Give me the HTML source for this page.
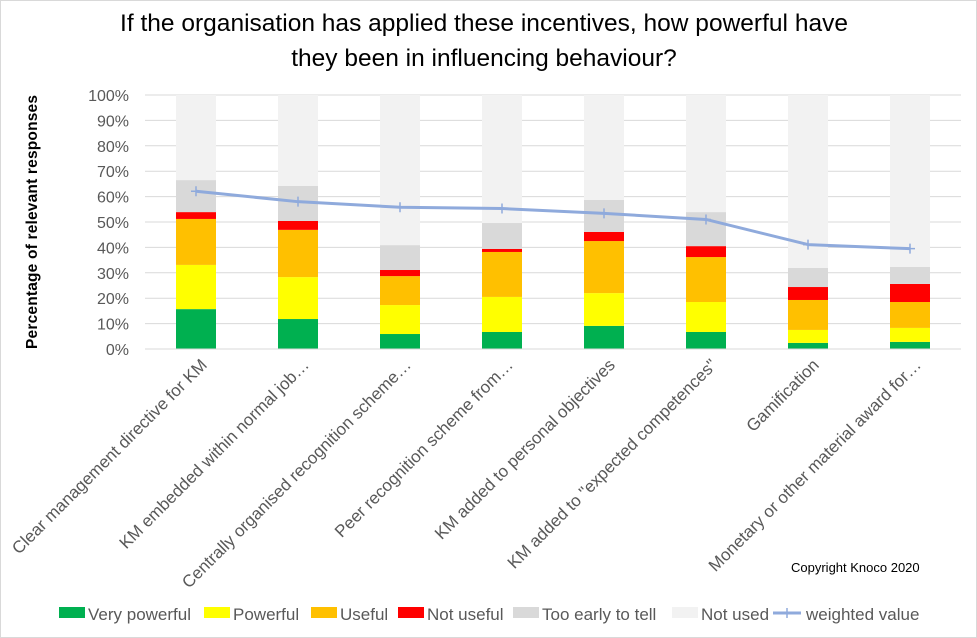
<!DOCTYPE html>
<html><head><meta charset="utf-8"><style>
body{margin:0;background:#fff;}
svg{display:block;font-family:"Liberation Sans",Calibri,sans-serif;}
</style></head><body>
<svg id="chart" width="977" height="638" viewBox="0 0 977 638">
<rect x="0.5" y="0.5" width="976" height="637" fill="#fff" stroke="#d9d9d9"/>
<text x="484" y="31" font-size="24.5" text-anchor="middle" fill="#000" textLength="728">If the organisation has applied these incentives, how powerful have</text>
<text x="484" y="66" font-size="24.5" text-anchor="middle" fill="#000">they been in influencing behaviour?</text>
<text transform="translate(37,222) rotate(-90)" font-size="15.5" font-weight="bold" text-anchor="middle" fill="#000" textLength="254">Percentage of relevant responses</text>
<text x="791" y="572" font-size="13" fill="#000">Copyright Knoco 2020</text>
<g id="grid"></g><g id="bars"></g><g id="line"></g><g id="xlabels"></g><g id="legend"></g>
</svg>
<script>
const categories=["Clear management directive for KM","KM embedded within normal job…","Centrally organised recognition scheme…","Peer recognition scheme from…","KM added to personal objectives","KM added to \"expected competences\"","Gamification","Monetary or other material award for…"];
const veryPowerful=[15.7,11.8,5.9,6.7,9.1,6.7,2.4,2.8];
const powerful=[17.4,16.5,11.4,13.8,12.9,11.8,5.1,5.5];
const useful=[18.1,18.6,11.4,17.7,20.5,17.7,11.8,10.2];
const notUseful=[2.7,3.5,2.4,1.2,3.6,4.3,5.1,7.1];
const tooEarly=[12.6,13.8,9.8,10.2,12.6,13.4,7.5,6.7];
const notUsed=[33.5,35.8,59.1,50.4,41.3,46.1,68.1,67.7];
const weighted=[62.1,58.0,55.8,55.3,53.4,51.0,41.1,39.5];
const yTicks=[0,10,20,30,40,50,60,70,80,90,100];
const seriesNames=["Very powerful","Powerful","Useful","Not useful","Too early to tell","Not used"];
const seriesColors=["#00b050","#ffff00","#ffc000","#ff0000","#d9d9d9","#f2f2f2"];
const seriesData=[veryPowerful,powerful,useful,notUseful,tooEarly,notUsed];

const NS="http://www.w3.org/2000/svg";
const X0=145,X1=961,Y0=349,Y1=95;
const band=(X1-X0)/categories.length;
const xC=i=>X0+band*(i+0.5);
const yS=v=>Y0-(v/100)*(Y0-Y1);
function mk(t,a,p){const e=document.createElementNS(NS,t);for(const k in a)e.setAttribute(k,a[k]);p.appendChild(e);return e;}
const grid=document.getElementById('grid');
yTicks.forEach(t=>{
  const l=mk('line',{x1:X0,x2:X1,y1:yS(t),y2:yS(t),stroke:'#d9d9d9','stroke-width':1},grid);
  
  
  const tx=mk('text',{x:129,y:yS(t)+6,'font-size':16,'text-anchor':'end',fill:'#595959'},grid);
  tx.textContent=t+'%';
  
  
});
const bars=document.getElementById('bars');
categories.forEach((c,i)=>{
  let cum=0;
  seriesData.forEach((s,k)=>{
    const v=s[i];
    const r=mk('rect',{x:xC(i)-20,width:40,y:yS(cum+v),height:yS(cum)-yS(cum+v),fill:seriesColors[k]},bars);
    
    
    cum+=v;
  });
});
const ax=mk('line',{x1:X0,x2:X1,y1:Y0,y2:Y0,stroke:'#d9d9d9','stroke-width':1},bars);


const lg=document.getElementById('line');
const pl=mk('polyline',{points:weighted.map((v,i)=>xC(i)+','+yS(v)).join(' '),fill:'none',stroke:'#8faadc','stroke-width':3,'stroke-linejoin':'round'},lg);


weighted.forEach((v,i)=>{
  const m=mk('path',{d:`M${xC(i)-5},${yS(v)}h10M${xC(i)},${yS(v)-5}v10`,stroke:'#8faadc','stroke-width':1.5},lg);
  
  
});
const xl=document.getElementById('xlabels');
categories.forEach((c,i)=>{
  const t=mk('text',{transform:`translate(${xC(i)+12},${366}) rotate(-45)`,'font-size':17,'text-anchor':'end',fill:'#595959'},xl);
  t.textContent=c;
  
  
});
const leg=document.getElementById('legend');
const legX=[59,204,311,398,513,672];
seriesNames.forEach((n,k)=>{
  const g=mk('g',{},leg);
  
  
  mk('rect',{x:legX[k],y:607,width:26,height:11,fill:seriesColors[k]},g);
  const t=mk('text',{x:legX[k]+29,y:620,'font-size':17,fill:'#595959'},g);
  t.textContent=n;
});
const g=mk('g',{},leg);


mk('line',{x1:773,x2:801,y1:613,y2:613,stroke:'#8faadc','stroke-width':3},g);
mk('path',{d:'M782,613h10M787,608v10',stroke:'#8faadc','stroke-width':1.5},g);
const wt=mk('text',{x:806,y:620,'font-size':17,fill:'#595959'},g);
wt.textContent='weighted value';
</script>
</body></html>
